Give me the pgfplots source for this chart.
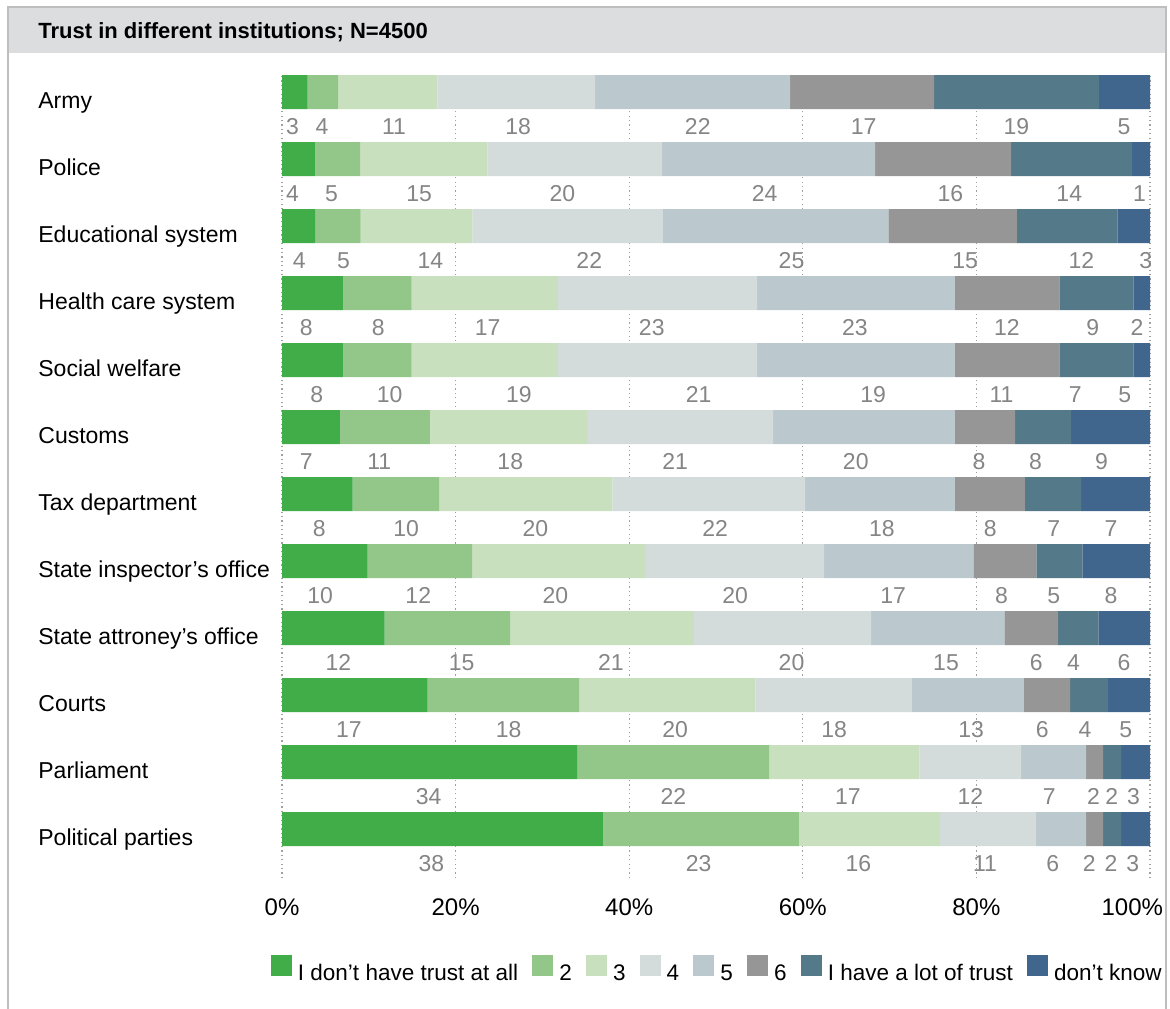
\documentclass[border=0pt]{standalone}
\usepackage{fontspec}
\setmainfont{Liberation Sans}
\usepackage{pgfplots}
\usepackage{pgfplotstable}
\pgfplotsset{compat=1.18}
\definecolor{c1}{HTML}{40AD49}
\definecolor{c2}{HTML}{93C789}
\definecolor{c3}{HTML}{C8E0BE}
\definecolor{c4}{HTML}{D3DBDB}
\definecolor{c5}{HTML}{BBC8CD}
\definecolor{c6}{HTML}{969696}
\definecolor{c7}{HTML}{547988}
\definecolor{c8}{HTML}{40668E}
\definecolor{labgray}{HTML}{858585}
\definecolor{gridgray}{HTML}{A0A0A0}
\definecolor{bandgray}{HTML}{DCDDDF}
\definecolor{framegray}{HTML}{BEBEBE}
\pgfplotsset{sqlegend/.style={legend image code/.code={\fill[##1] (0bp,-1bp) rectangle (10.5bp,9.5bp);}}}

\pgfplotstableread{
y c1 c2 c3 c4 c5 c6 c7 c8
11 2.96 3.53 11.41 18.16 22.47 16.59 19.00 5.88
10 3.80 5.19 14.66 20.13 24.54 15.67 13.94 2.07
9 3.83 5.22 12.89 21.88 26.04 14.81 11.56 3.77
8 7.07 7.87 16.85 22.94 22.80 12.03 8.52 1.92
7 7.07 7.87 16.85 22.94 22.80 12.03 8.52 1.92
6 6.68 10.37 18.09 21.43 20.96 6.92 6.45 9.10
5 8.13 9.98 19.96 22.21 17.25 8.06 6.48 7.93
4 9.85 12.09 19.90 20.62 17.18 7.27 5.29 7.80
3 11.83 14.48 21.15 20.42 15.33 6.21 4.63 5.95
2 16.79 17.45 20.29 17.97 12.96 5.35 4.37 4.82
1 33.99 22.12 17.32 11.71 7.49 1.96 2.07 3.34
0 36.98 22.58 16.25 11.06 5.76 1.96 2.07 3.34
}\bars

\pgfplotstableread{
x y lab
1.2 10.488 3
4.6 10.488 4
12.9 10.488 11
27.2 10.488 18
47.9 10.488 22
67.0 10.488 17
84.6 10.488 19
97.0 10.488 5
1.2 9.488 4
5.7 9.488 5
15.8 9.488 15
32.3 9.488 20
55.6 9.488 24
77.0 9.488 16
90.7 9.488 14
98.8 9.488 1
2.0 8.488 4
7.1 8.488 5
17.1 8.488 14
35.4 8.488 22
58.7 8.488 25
78.7 8.488 15
92.1 8.488 12
99.5 8.488 3
2.8 7.488 8
11.1 7.488 8
23.7 7.488 17
42.6 7.488 23
66.0 7.488 23
83.5 7.488 12
93.4 7.488 9
98.5 7.488 2
4.0 6.488 8
12.4 6.488 10
27.3 6.488 19
48.0 6.488 21
68.1 6.488 19
82.9 6.488 11
91.4 6.488 7
97.1 6.488 5
2.8 5.488 7
11.2 5.488 11
26.3 5.488 18
45.3 5.488 21
66.1 5.488 20
80.3 5.488 8
86.8 5.488 8
94.4 5.488 9
4.3 4.488 8
14.3 4.488 10
29.2 4.488 20
49.9 4.488 22
69.1 4.488 18
81.6 4.488 8
88.9 4.488 7
95.5 4.488 7
4.4 3.488 10
15.7 3.488 12
31.5 3.488 20
52.2 3.488 20
70.4 3.488 17
82.9 3.488 8
88.9 3.488 5
95.5 3.488 8
6.5 2.488 12
20.7 2.488 15
37.9 2.488 21
58.7 2.488 20
76.5 2.488 15
86.9 2.488 6
91.2 2.488 4
97.0 2.488 6
7.7 1.488 17
26.1 1.488 18
45.3 1.488 20
63.6 1.488 18
79.4 1.488 13
87.6 1.488 6
92.5 1.488 4
97.2 1.488 5
16.9 0.488 34
45.1 0.488 22
65.2 0.488 17
79.3 0.488 12
88.4 0.488 7
93.5 0.488 2
95.6 0.488 2
98.1 0.488 3
17.2 -0.512 38
48.0 -0.512 23
66.4 -0.512 16
81.0 -0.512 11
88.8 -0.512 6
93.0 -0.512 2
95.5 -0.512 2
98.0 -0.512 3
}\labs

\begin{document}
\begin{tikzpicture}
\path[use as bounding box] (0,0) rectangle (585bp,504.5bp);
\fill[bandgray] (3.5bp,478bp) rectangle (583bp,501bp);
\draw[framegray, line width=1bp] (3.75bp,0) -- (3.75bp,501bp) -- (583bp,501bp) -- (583bp,0);
\node[anchor=base west, inner sep=0pt, font=\fontsize{11bp}{13bp}\selectfont\bfseries] at (19bp,485bp) {Trust in different institutions; N=4500};

\begin{axis}[
  at={(141bp,65.5bp)}, anchor=south west,
  x=4.34bp, y=33.5bp,
  xmin=0, xmax=100, ymin=-0.73, ymax=11.26,
  xbar stacked, bar width=17bp,
  axis line style={draw=none}, tick style={draw=none}, major tick length=0pt,
  xtick={0,20,40,60,80,100},
  xticklabels={0\%,20\%,40\%,60\%,80\%,\makebox[0pt][r]{100\%\kern-6.5bp}},
  xmajorgrids,
  grid style={gridgray, line width=0.6bp, dash pattern=on 0.6bp off 1.6bp},
  ytick={0,1,2,3,4,5,6,7,8,9,10,11},
  yticklabels={Political parties, Parliament, Courts, State attroney’s office, State inspector’s office, Tax department, Customs, Social welfare, Health care system, Educational system, Police, Army},
  yticklabel style={anchor=base west, inner sep=0pt, xshift=-122bp, yshift=-8bp, font=\fontsize{11.5bp}{13bp}\selectfont},
  xticklabel style={anchor=north, inner sep=0pt, yshift=-10bp, font=\fontsize{12bp}{14bp}\selectfont},
  legend columns=-1,
  legend cell align=left,
  legend style={at={(-0.0127,-0.1135)}, anchor=west, draw=none, fill=none, inner sep=0pt, outer sep=0pt,
    font=\fontsize{11.25bp}{13bp}\selectfont,
    nodes={inner sep=0pt},
    /tikz/every odd column/.append style={column sep=3bp},
    /tikz/every even column/.append style={column sep=7.1bp}},
]
\addplot[fill=c1, draw=none, sqlegend] table[x=c1, y=y] {\bars};
\addplot[fill=c2, draw=none, sqlegend] table[x=c2, y=y] {\bars};
\addplot[fill=c3, draw=none, sqlegend] table[x=c3, y=y] {\bars};
\addplot[fill=c4, draw=none, sqlegend] table[x=c4, y=y] {\bars};
\addplot[fill=c5, draw=none, sqlegend] table[x=c5, y=y] {\bars};
\addplot[fill=c6, draw=none, sqlegend] table[x=c6, y=y] {\bars};
\addplot[fill=c7, draw=none, sqlegend] table[x=c7, y=y] {\bars};
\addplot[fill=c8, draw=none, sqlegend] table[x=c8, y=y] {\bars};
\legend{I don’t have trust at all, 2, 3, 4, 5, 6, I have a lot of trust, don’t know}
\end{axis}

\begin{axis}[
  at={(141bp,65.5bp)}, anchor=south west,
  x=4.34bp, y=33.5bp,
  xmin=0, xmax=100, ymin=-0.73, ymax=11.26,
  hide axis, clip=false,
]
\addplot[only marks, mark=*, mark size=0pt, mark options={draw=none, fill=none},
  nodes near coords, point meta=explicit symbolic, nodes near coords align={center},
  nodes near coords style={text=labgray, inner sep=0pt, font=\fontsize{11.5bp}{13bp}\selectfont}]
  table[x=x, y=y, meta=lab] {\labs};
\end{axis}
\end{tikzpicture}
\end{document}
